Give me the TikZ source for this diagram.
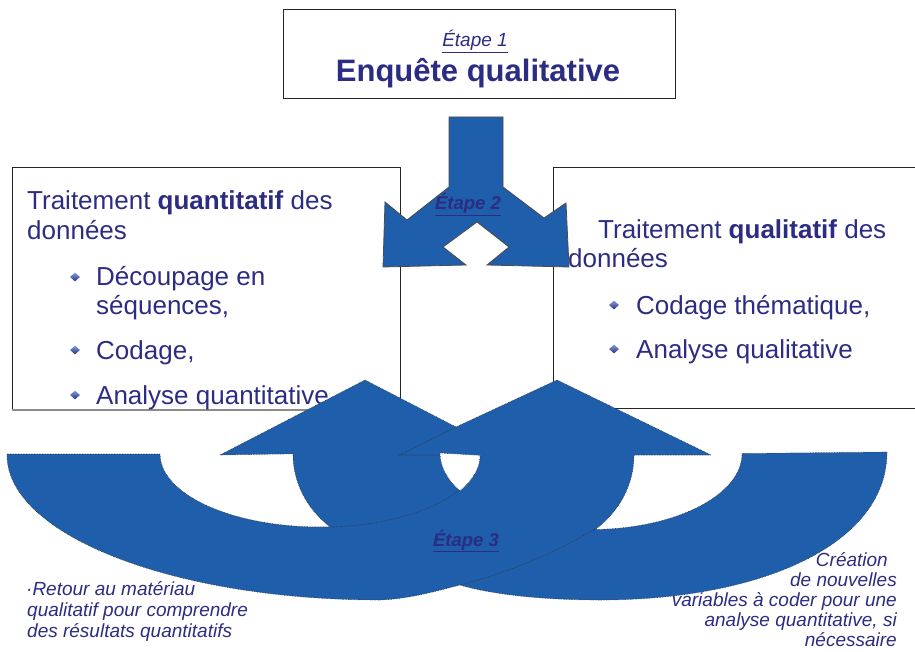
\documentclass[tikz,border=0pt]{standalone}
\usepackage{fontspec}
\setmainfont{Liberation Sans}
\usepackage{tikz}
\usetikzlibrary{shapes.geometric}

\definecolor{bleu}{RGB}{30,94,170}
\definecolor{encre}{RGB}{44,44,130}
\definecolor{clair}{RGB}{130,160,215}

\begin{document}
\begin{tikzpicture}[x=1pt, y=-1pt,
    cadre/.style={draw=black!85, line width=0.9pt},
    corps/.style={anchor=base west, inner sep=0pt, text=encre, font=\fontsize{26}{30}\selectfont},
    note/.style={inner sep=0pt, text=encre, font=\fontsize{19}{21}\selectfont\itshape},
    etape/.style={anchor=base, inner sep=0pt, text=encre, font=\fontsize{18.5}{20}\selectfont\bfseries\itshape},
    puce/.style={diamond, inner sep=0pt, minimum width=10pt, minimum height=9pt,
      top color=clair, bottom color=encre},
    fleche/.style={fill=bleu, draw=black!80, line width=0.6pt, densely dotted},
    trait/.style={draw=black!80, line width=0.6pt, densely dotted}
  ]
    \clip (0,0) rectangle (915,652);

    % etape 1
    \draw[cadre] (283,9) rectangle (675,98);
    \node[anchor=base, inner sep=0pt, text=encre, font=\fontsize{19}{21}\selectfont\itshape] (e1) at (475,47) {\underline{Étape 1}};
    \node[anchor=base, inner sep=0pt, text=encre, font=\fontsize{31}{34}\selectfont\bfseries] (enq) at (478,82) {Enquête qualitative};

    % les deux traitements
    \draw[cadre] (12,167) rectangle (400,410);
    \draw[cadre] (553,167) rectangle (917,408);
    \draw[black!45, line width=1.5pt] (12,410) -- (400,410);

    \node[corps] (tq1) at (27,210) {Traitement \textbf{quantitatif} des};
    \node[corps] (tq2) at (27,240) {données};
    \node[puce] (p1) at (75,277) {};
    \node[corps] (tq3) at (96,286) {Découpage en};
    \node[corps] (tq4) at (96,314) {séquences,};
    \node[puce] (p2) at (75,350) {};
    \node[corps] (tq5) at (96,359) {Codage,};
    \node[puce] (p3) at (75,395) {};
    \node[corps] (tq6) at (96,404) {Analyse quantitative};

    \node[corps] (tl1) at (598,239) {Traitement \textbf{qualitatif} des};
    \node[corps] (tl2) at (568,268) {données};
    \node[puce] (p4) at (614,305) {};
    \node[corps] (tl3) at (636,314) {Codage thématique,};
    \node[puce] (p5) at (614,349) {};
    \node[corps] (tl4) at (636,358) {Analyse qualitative};

    % etape 2 : fleche qui se divise
    \draw[fill=bleu, draw=black!70, line width=0.8pt] (449,117) -- (503,117) -- (503,187)
      -- (544,218) -- (566,203) -- (569,267) -- (487,265) -- (509,247) -- (477,222)
      -- (443,247) -- (466,265) -- (383,267) -- (385,202) -- (407,220) -- (449,187) -- cycle;
    \node[etape] (e2) at (468,210) {\underline{Étape 2}};

    % etape 3 : les deux fleches courbes
    \path[fleche] (7,454) -- (160,454)
      arc[start angle=180, end angle=86.4, x radius=160, y radius=73]
      arc[start angle=129, end angle=180, x radius=100, y radius=94]
      -- (220,455) -- (365,380) -- (456,427) -- (557,380) -- (711,455) -- (634,455)
      arc[start angle=0, end angle=52.4, x radius=100, y radius=94]
      arc[start angle=88.5, end angle=0, x radius=151, y radius=76]
      -- (887,452)
      .. controls (887,545) and (760,600) .. (600,600)
      .. controls (540,600) and (490,594) .. (460,585)
      .. controls (440,590) and (410,599) .. (380,600)
      arc[start angle=90, end angle=180, x radius=373, y radius=145]
      -- cycle;
    \path[fill=white, trait] (440,453)
      arc[start angle=180, end angle=150.2, x radius=151, y radius=76]
      arc[start angle=29, end angle=0, x radius=160, y radius=73] -- cycle;
    \draw[trait] (456,427) -- (400,455) -- (440,455);
    \draw[trait] (330,527) arc[start angle=86.4, end angle=29, x radius=160, y radius=73];
    \draw[trait] (595,529) .. controls (555,553) and (510,572) .. (460,585);
    \node[etape] (e3) at (466,546) {\underline{Étape 3}};

    % remarques du bas
    \node[note, anchor=base west] (r1) at (26,595) {·Retour au matériau};
    \node[note, anchor=base west] (r2) at (27,616) {qualitatif pour comprendre};
    \node[note, anchor=base west] (r3) at (27,637) {des résultats quantitatifs};

    \node[note, anchor=base east] (c1) at (888,566) {Création};
    \node[note, anchor=base east] (c2) at (897,586) {de nouvelles};
    \node[note, anchor=base east] (c3) at (897,606) {variables à coder pour une};
    \node[note, anchor=base east] (c4) at (897,626) {analyse quantitative, si};
    \node[note, anchor=base east] (c5) at (897,646) {nécessaire};
\end{tikzpicture}
\end{document}
